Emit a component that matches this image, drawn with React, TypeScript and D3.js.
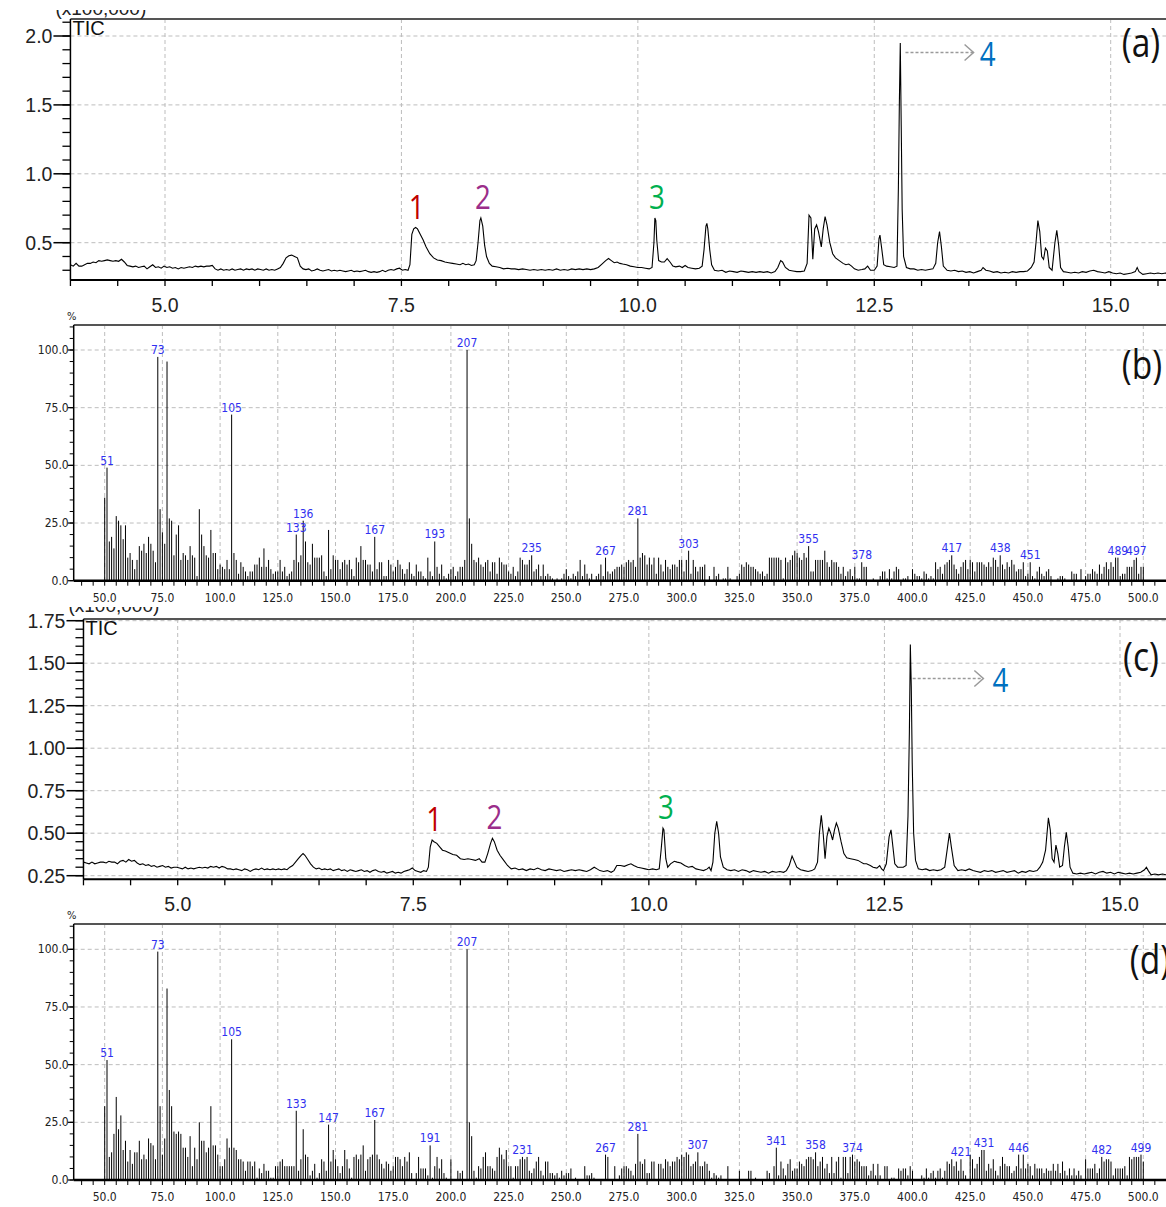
import React from 'react';
import * as d3 from 'd3';

const W = 1166;
const H = 1207;

// TIC traces: [retention time (min), intensity (x100,000)]
const ticA: [number, number][] = [
  [4.00,0.34],[4.03,0.33],[4.06,0.35],[4.09,0.33],[4.12,0.33],[4.15,0.34],[4.18,0.35],[4.21,0.35],[4.24,0.36],[4.27,0.355],
  [4.30,0.37],[4.33,0.365],[4.36,0.37],[4.39,0.375],[4.42,0.37],[4.45,0.365],[4.48,0.37],[4.51,0.365],[4.54,0.38],[4.57,0.36],
  [4.60,0.335],[4.63,0.33],[4.66,0.325],[4.69,0.33],[4.72,0.32],[4.75,0.325],[4.78,0.33],[4.81,0.31],[4.84,0.325],[4.87,0.34],
  [4.90,0.32],[4.93,0.325],[4.96,0.315],[4.99,0.33],[5.02,0.32],[5.05,0.325],[5.08,0.315],[5.11,0.32],[5.14,0.31],[5.17,0.32],
  [5.20,0.315],[5.23,0.32],[5.26,0.325],[5.29,0.32],[5.32,0.33],[5.35,0.325],[5.38,0.33],[5.41,0.325],[5.44,0.33],[5.47,0.33],
  [5.50,0.335],[5.53,0.31],[5.56,0.30],[5.59,0.31],[5.62,0.30],[5.65,0.305],[5.68,0.30],[5.71,0.31],[5.74,0.30],[5.77,0.305],
  [5.80,0.31],[5.83,0.30],[5.86,0.31],[5.89,0.305],[5.92,0.31],[5.95,0.30],[5.98,0.31],[6.01,0.305],[6.04,0.30],[6.07,0.31],
  [6.10,0.30],[6.13,0.305],[6.16,0.30],[6.19,0.31],[6.22,0.32],[6.25,0.35],[6.28,0.39],[6.31,0.405],[6.34,0.41],[6.37,0.40],
  [6.40,0.39],[6.43,0.33],[6.46,0.31],[6.49,0.305],[6.52,0.31],[6.55,0.295],[6.58,0.30],[6.61,0.31],[6.64,0.30],[6.67,0.295],
  [6.70,0.30],[6.73,0.305],[6.76,0.295],[6.79,0.30],[6.82,0.295],[6.85,0.30],[6.88,0.295],[6.91,0.29],[6.94,0.295],[6.97,0.30],
  [7.00,0.29],[7.03,0.295],[7.06,0.29],[7.09,0.295],[7.12,0.30],[7.15,0.29],[7.18,0.285],[7.21,0.29],[7.24,0.285],[7.27,0.29],
  [7.30,0.30],[7.33,0.29],[7.36,0.30],[7.39,0.305],[7.42,0.30],[7.45,0.31],[7.48,0.315],[7.51,0.30],[7.54,0.305],[7.57,0.30],
  [7.59,0.34],[7.61,0.56],[7.63,0.60],[7.65,0.61],[7.67,0.60],[7.70,0.56],[7.73,0.52],[7.76,0.47],[7.80,0.42],[7.84,0.39],
  [7.88,0.375],[7.92,0.37],[7.96,0.36],[8.00,0.355],[8.04,0.35],[8.08,0.345],[8.12,0.34],[8.15,0.35],[8.18,0.34],[8.21,0.345],
  [8.24,0.335],[8.27,0.34],[8.29,0.37],[8.31,0.50],[8.33,0.66],[8.34,0.68],[8.36,0.62],[8.38,0.48],[8.40,0.40],[8.43,0.35],
  [8.46,0.33],[8.50,0.325],[8.54,0.32],[8.58,0.31],[8.62,0.315],[8.66,0.31],[8.70,0.31],[8.74,0.305],[8.78,0.31],[8.82,0.305],
  [8.86,0.30],[8.90,0.305],[8.94,0.30],[8.98,0.305],[9.02,0.30],[9.06,0.305],[9.10,0.30],[9.14,0.31],[9.18,0.30],[9.22,0.305],
  [9.26,0.30],[9.30,0.31],[9.34,0.305],[9.38,0.31],[9.42,0.305],[9.46,0.31],[9.50,0.305],[9.54,0.31],[9.58,0.32],[9.62,0.345],
  [9.66,0.37],[9.69,0.385],[9.72,0.37],[9.75,0.355],[9.78,0.36],[9.81,0.35],[9.84,0.345],[9.88,0.34],[9.92,0.33],[9.96,0.325],
  [10.00,0.32],[10.04,0.32],[10.08,0.315],[10.12,0.31],[10.15,0.32],[10.17,0.50],[10.18,0.68],[10.19,0.66],[10.20,0.52],[10.22,0.37],
  [10.25,0.36],[10.28,0.36],[10.31,0.385],[10.34,0.36],[10.37,0.33],[10.40,0.325],[10.44,0.33],[10.47,0.32],[10.50,0.335],[10.53,0.32],
  [10.57,0.315],[10.61,0.31],[10.65,0.315],[10.68,0.33],[10.70,0.45],[10.72,0.62],[10.73,0.64],[10.74,0.60],[10.76,0.45],[10.78,0.34],
  [10.81,0.30],[10.85,0.295],[10.89,0.30],[10.93,0.285],[10.97,0.295],[11.01,0.29],[11.05,0.285],[11.09,0.295],[11.13,0.29],[11.17,0.285],
  [11.21,0.29],[11.25,0.285],[11.29,0.29],[11.33,0.285],[11.37,0.29],[11.41,0.28],[11.45,0.29],[11.48,0.32],[11.51,0.37],[11.53,0.36],
  [11.56,0.32],[11.60,0.30],[11.64,0.295],[11.68,0.29],[11.72,0.29],[11.76,0.295],[11.79,0.35],[11.81,0.70],[11.83,0.68],[11.85,0.38],
  [11.87,0.60],[11.89,0.63],[11.91,0.58],[11.94,0.47],[11.96,0.60],[11.98,0.69],[12.00,0.63],[12.03,0.50],[12.06,0.42],[12.09,0.39],
  [12.13,0.37],[12.17,0.35],[12.20,0.34],[12.23,0.345],[12.26,0.33],[12.29,0.31],[12.33,0.30],[12.37,0.305],[12.40,0.31],[12.43,0.33],
  [12.46,0.30],[12.50,0.30],[12.53,0.33],[12.55,0.53],[12.56,0.555],[12.58,0.45],[12.60,0.34],[12.63,0.33],[12.67,0.325],[12.71,0.32],
  [12.74,0.33],[12.755,0.90],[12.765,1.50],[12.775,1.95],[12.785,1.35],[12.795,0.74],[12.81,0.40],[12.84,0.32],[12.88,0.31],[12.92,0.31],
  [12.96,0.30],[13.00,0.305],[13.04,0.30],[13.08,0.305],[13.12,0.31],[13.15,0.35],[13.17,0.50],[13.19,0.58],[13.21,0.47],[13.23,0.33],
  [13.27,0.30],[13.31,0.295],[13.35,0.30],[13.39,0.29],[13.43,0.295],[13.47,0.285],[13.51,0.29],[13.55,0.28],[13.59,0.29],[13.63,0.30],
  [13.65,0.32],[13.68,0.30],[13.72,0.295],[13.76,0.285],[13.80,0.29],[13.84,0.28],[13.88,0.285],[13.92,0.28],[13.96,0.29],[14.00,0.285],
  [14.04,0.29],[14.08,0.29],[14.12,0.295],[14.16,0.32],[14.19,0.36],[14.21,0.50],[14.23,0.66],[14.25,0.58],[14.27,0.40],[14.29,0.38],
  [14.31,0.46],[14.33,0.44],[14.35,0.32],[14.38,0.30],[14.41,0.50],[14.43,0.59],[14.45,0.48],[14.47,0.32],[14.50,0.29],[14.54,0.285],
  [14.58,0.28],[14.62,0.285],[14.66,0.28],[14.70,0.29],[14.74,0.285],[14.78,0.295],[14.82,0.30],[14.86,0.29],[14.90,0.285],[14.94,0.28],
  [14.98,0.29],[15.02,0.28],[15.06,0.275],[15.10,0.28],[15.14,0.27],[15.18,0.275],[15.22,0.28],[15.26,0.29],[15.28,0.32],[15.30,0.29],
  [15.34,0.27],[15.38,0.275],[15.42,0.28],[15.46,0.275],[15.50,0.28],[15.54,0.275],[15.58,0.28],[15.62,0.275],
];

const ticC: [number, number][] = [
  [4.00,0.33],[4.03,0.325],[4.06,0.32],[4.09,0.33],[4.12,0.32],[4.15,0.325],[4.18,0.33],[4.21,0.33],[4.24,0.325],[4.27,0.335],
  [4.30,0.33],[4.33,0.33],[4.36,0.32],[4.39,0.335],[4.42,0.34],[4.45,0.33],[4.48,0.345],[4.51,0.335],[4.54,0.34],[4.57,0.325],
  [4.60,0.315],[4.63,0.32],[4.66,0.31],[4.69,0.315],[4.72,0.305],[4.75,0.31],[4.78,0.30],[4.81,0.305],[4.84,0.31],[4.87,0.30],
  [4.90,0.305],[4.93,0.295],[4.96,0.30],[4.99,0.30],[5.02,0.295],[5.05,0.29],[5.08,0.30],[5.11,0.29],[5.14,0.295],[5.17,0.29],
  [5.20,0.295],[5.23,0.30],[5.26,0.295],[5.29,0.30],[5.32,0.295],[5.35,0.305],[5.38,0.30],[5.41,0.305],[5.44,0.295],[5.47,0.305],
  [5.50,0.30],[5.53,0.29],[5.56,0.29],[5.59,0.285],[5.62,0.29],[5.65,0.285],[5.68,0.28],[5.71,0.29],[5.74,0.285],[5.77,0.275],
  [5.80,0.285],[5.83,0.29],[5.86,0.285],[5.89,0.295],[5.92,0.285],[5.95,0.29],[5.98,0.285],[6.01,0.29],[6.04,0.285],[6.07,0.29],
  [6.10,0.285],[6.13,0.29],[6.16,0.285],[6.19,0.30],[6.22,0.31],[6.25,0.33],[6.28,0.35],[6.31,0.37],[6.33,0.38],[6.35,0.37],
  [6.38,0.345],[6.41,0.32],[6.44,0.30],[6.47,0.29],[6.50,0.295],[6.53,0.285],[6.56,0.29],[6.59,0.285],[6.62,0.29],[6.65,0.28],
  [6.68,0.285],[6.71,0.29],[6.74,0.28],[6.77,0.285],[6.80,0.275],[6.83,0.285],[6.86,0.28],[6.89,0.275],[6.92,0.28],[6.95,0.285],
  [6.98,0.275],[7.01,0.28],[7.04,0.27],[7.07,0.28],[7.10,0.285],[7.13,0.275],[7.16,0.27],[7.19,0.275],[7.22,0.265],[7.25,0.27],
  [7.28,0.275],[7.31,0.265],[7.34,0.27],[7.37,0.265],[7.40,0.275],[7.43,0.28],[7.46,0.285],[7.49,0.295],[7.52,0.28],[7.55,0.275],
  [7.58,0.27],[7.61,0.28],[7.64,0.275],[7.66,0.30],[7.68,0.42],[7.70,0.46],[7.72,0.45],[7.75,0.44],[7.78,0.42],[7.81,0.40],
  [7.84,0.395],[7.88,0.385],[7.92,0.375],[7.96,0.37],[8.00,0.35],[8.04,0.345],[8.08,0.35],[8.12,0.345],[8.16,0.34],[8.20,0.35],
  [8.23,0.33],[8.26,0.33],[8.29,0.38],[8.32,0.44],[8.34,0.47],[8.36,0.45],[8.39,0.40],[8.42,0.37],[8.46,0.34],[8.50,0.31],
  [8.54,0.29],[8.58,0.295],[8.62,0.285],[8.66,0.29],[8.70,0.28],[8.74,0.29],[8.78,0.285],[8.82,0.295],[8.86,0.285],[8.90,0.28],
  [8.94,0.29],[8.98,0.285],[9.02,0.28],[9.06,0.285],[9.10,0.275],[9.14,0.28],[9.18,0.285],[9.22,0.28],[9.26,0.285],[9.30,0.28],
  [9.34,0.275],[9.38,0.285],[9.42,0.30],[9.45,0.29],[9.48,0.28],[9.52,0.275],[9.56,0.28],[9.60,0.27],[9.63,0.28],[9.66,0.31],
  [9.70,0.31],[9.74,0.305],[9.78,0.315],[9.81,0.32],[9.84,0.31],[9.88,0.30],[9.92,0.295],[9.96,0.29],[10.00,0.285],[10.04,0.29],
  [10.08,0.285],[10.11,0.29],[10.13,0.40],[10.15,0.53],[10.16,0.52],[10.18,0.35],[10.20,0.30],[10.23,0.32],[10.27,0.335],[10.30,0.33],
  [10.34,0.325],[10.38,0.31],[10.42,0.30],[10.46,0.305],[10.50,0.29],[10.54,0.285],[10.58,0.28],[10.62,0.29],[10.64,0.30],[10.66,0.28],
  [10.68,0.33],[10.70,0.50],[10.72,0.57],[10.74,0.50],[10.76,0.36],[10.79,0.30],[10.83,0.285],[10.87,0.28],[10.91,0.285],[10.95,0.275],
  [10.99,0.285],[11.03,0.28],[11.07,0.27],[11.11,0.28],[11.15,0.275],[11.19,0.27],[11.23,0.275],[11.27,0.265],[11.31,0.275],[11.35,0.27],
  [11.39,0.275],[11.43,0.27],[11.46,0.28],[11.49,0.31],[11.52,0.365],[11.54,0.34],[11.57,0.30],[11.61,0.285],[11.65,0.28],[11.69,0.275],
  [11.73,0.28],[11.76,0.29],[11.79,0.33],[11.81,0.50],[11.83,0.605],[11.85,0.50],[11.87,0.35],[11.89,0.48],[11.91,0.53],[11.93,0.50],
  [11.95,0.46],[11.97,0.52],[11.99,0.56],[12.01,0.53],[12.04,0.45],[12.07,0.38],[12.10,0.355],[12.14,0.35],[12.18,0.345],[12.22,0.34],
  [12.25,0.33],[12.28,0.32],[12.31,0.32],[12.35,0.31],[12.38,0.30],[12.42,0.295],[12.45,0.31],[12.47,0.29],[12.49,0.28],[12.52,0.32],
  [12.55,0.48],[12.57,0.52],[12.59,0.42],[12.61,0.32],[12.64,0.30],[12.67,0.30],[12.70,0.30],[12.73,0.31],[12.75,0.60],[12.765,1.10],
  [12.775,1.61],[12.785,1.36],[12.795,0.91],[12.81,0.50],[12.83,0.34],[12.86,0.29],[12.90,0.285],[12.94,0.29],[12.98,0.28],[13.02,0.285],
  [13.06,0.28],[13.10,0.285],[13.14,0.30],[13.17,0.42],[13.19,0.50],[13.21,0.42],[13.24,0.31],[13.28,0.28],[13.32,0.285],[13.36,0.28],
  [13.40,0.29],[13.44,0.28],[13.48,0.275],[13.52,0.27],[13.56,0.28],[13.60,0.275],[13.64,0.28],[13.68,0.27],[13.72,0.275],[13.76,0.28],
  [13.80,0.27],[13.84,0.275],[13.88,0.28],[13.92,0.265],[13.96,0.275],[14.00,0.27],[14.04,0.28],[14.08,0.275],[14.12,0.28],[14.15,0.30],
  [14.18,0.33],[14.21,0.40],[14.24,0.59],[14.26,0.52],[14.28,0.35],[14.30,0.33],[14.32,0.43],[14.34,0.38],[14.36,0.30],[14.39,0.31],
  [14.41,0.42],[14.43,0.505],[14.45,0.42],[14.47,0.30],[14.50,0.265],[14.54,0.26],[14.58,0.265],[14.62,0.26],[14.66,0.265],[14.70,0.27],
  [14.74,0.26],[14.78,0.27],[14.82,0.275],[14.86,0.265],[14.90,0.27],[14.94,0.26],[14.98,0.27],[15.02,0.265],[15.06,0.26],[15.10,0.265],
  [15.14,0.26],[15.18,0.265],[15.22,0.27],[15.26,0.285],[15.28,0.30],[15.30,0.28],[15.33,0.255],[15.37,0.26],[15.41,0.255],[15.45,0.26],
  [15.49,0.255],[15.53,0.26],
];

// mass spectra: relative intensity (%) for m/z 50, 51, ... 500
const mzFirst = 50;
const specB = [
  36,49,17,19,14,28,26,24,18,24, 10,12,9,5,9,15,13,16,12,19, 16,13,8,97,31,21,16,95,27,26,
  11,20,24,9,12,11,9,15,11,10, 2,31,20,15,11,10,22,12,12,5, 7,6,5,9,5,72,12,9,3,8,
  6,4,2,4,4,7,7,10,6,14, 6,9,5,3,4,4,9,4,6,2, 3,4,9,20,8,11,26,17,8,7,
  16,10,10,10,11,4,2,22,5,11, 9,9,5,8,9,7,9,5,2,10, 8,15,9,9,7,7,4,19,5,8,
  8,2,2,9,7,4,6,9,7,5, 3,5,8,3,2,7,4,4,2,1, 10,4,2,17,6,3,7,2,1,3,
  5,6,2,4,6,6,9,100,27,16, 9,8,10,7,6,8,9,4,8,8, 3,10,8,7,7,4,3,6,2,4,
  10,9,7,7,9,11,4,5,7,2, 7,2,3,2,1,0,1,0,1,3, 5,2,1,3,2,4,9,2,7,3,
  1,3,0,2,3,7,2,10,4,3, 4,5,6,6,7,6,8,9,8,9, 6,27,10,12,11,7,10,7,10,3,
  10,7,4,9,6,5,7,7,6,9, 9,4,9,13,3,9,6,4,6,6, 7,0,2,0,6,2,3,0,1,1,
  6,1,0,0,2,3,7,6,8,7, 6,6,5,4,3,4,2,3,10,10, 10,10,10,9,1,10,8,9,11,13,
  12,10,9,12,10,15,4,4,9,9, 9,9,13,8,6,9,8,8,6,3, 6,2,4,5,2,6,1,1,8,6,
  6,0,0,1,0,0,2,4,4,1, 5,1,4,6,5,0,1,1,2,0, 5,3,2,2,1,4,3,1,2,1,
  8,5,6,3,7,8,9,11,7,5, 3,6,8,9,5,9,8,4,8,8, 8,7,6,8,6,10,9,6,11,7,
  5,8,6,9,7,4,5,5,8,2, 3,8,2,1,4,6,3,2,4,5, 2,0,0,1,2,2,1,0,0,4,
  3,3,0,5,0,2,3,3,5,4, 3,7,3,6,8,5,8,6,10,10, 2,3,3,6,6,6,9,10,3,6,
  6,
];
const specD = [
  32,52,10,12,20,36,22,28,13,17, 8,13,7,12,12,17,9,11,9,18, 16,15,9,99,32,11,18,83,39,32,
  21,20,21,20,14,14,10,19,6,14, 9,25,17,17,12,14,32,15,15,11, 6,6,9,18,14,61,14,13,9,9,
  8,4,8,8,6,8,1,5,3,7, 4,4,1,1,6,6,8,9,6,6, 6,6,6,30,4,9,22,11,10,2,
  4,7,1,3,9,8,4,24,8,13, 9,6,3,6,13,9,5,1,10,11, 9,11,15,4,9,10,11,26,11,9,
  7,5,8,7,4,6,10,10,9,6, 10,8,12,3,0,3,10,5,5,5, 2,15,1,6,10,5,9,3,1,0,
  9,0,0,4,3,4,0,100,25,19, 4,1,6,5,10,12,6,6,5,4, 10,14,11,9,13,6,6,1,6,6,
  9,10,9,10,4,3,5,8,10,4, 2,8,8,3,3,2,3,1,4,2, 3,3,5,0,1,0,0,0,6,2,
  2,3,1,0,0,0,0,11,10,0, 0,6,0,2,5,6,6,5,4,2, 7,20,8,7,9,3,3,8,8,0,
  7,7,5,9,8,6,8,8,10,9, 11,10,12,11,6,7,8,12,6,6, 8,7,4,1,3,2,1,2,0,0,
  6,0,0,0,0,4,0,0,0,4, 4,0,1,0,0,0,0,4,3,0, 6,14,2,8,5,2,7,9,4,5,
  5,8,7,6,9,10,10,9,12,6, 8,10,5,7,3,10,3,8,10,1, 10,10,3,10,11,8,9,8,6,6,
  6,2,4,7,2,7,2,0,6,6, 0,1,1,0,5,4,5,5,2,6, 4,0,0,0,2,1,5,1,3,4,
  1,4,5,1,4,8,7,9,6,8, 4,9,4,2,0,11,9,5,7,10, 13,13,4,7,5,9,4,2,6,10,
  7,6,6,3,4,6,11,5,11,5, 7,6,2,7,5,5,5,3,5,4, 4,7,4,7,3,8,4,2,5,2,
  5,2,4,2,0,9,5,5,5,7, 3,5,10,8,9,9,8,2,5,5, 5,5,6,2,10,9,10,10,10,11,
  8,
];
const labelsB = [51, 73, 105, 133, 136, 167, 193, 207, 235, 267, 281, 303, 355, 378, 417, 438, 451, 489, 497];
const labelsD = [51, 73, 105, 133, 147, 167, 191, 207, 231, 267, 281, 307, 341, 358, 374, 421, 431, 446, 482, 499];

const timeTicks = [5.0, 7.5, 10.0, 12.5, 15.0];
const ticYTicksA = [0.5, 1.0, 1.5, 2.0];
const ticYTicksC = [0.25, 0.5, 0.75, 1.0, 1.25, 1.5, 1.75];
const mzTicks = [50, 75, 100, 125, 150, 175, 200, 225, 250, 275, 300, 325, 350, 375, 400, 425, 450, 475, 500];
const pctTicks = [0, 25, 50, 75, 100];

const peaksA = [
  { n: '1', t: 7.64, v: 0.61, color: '#c00000' },
  { n: '2', t: 8.34, v: 0.68, color: '#9b2d8a' },
  { n: '3', t: 10.18, v: 0.68, color: '#00b050' },
];
const peaksC = [
  { n: '1', t: 7.70, v: 0.46, color: '#c00000' },
  { n: '2', t: 8.34, v: 0.47, color: '#9b2d8a' },
  { n: '3', t: 10.16, v: 0.53, color: '#00b050' },
];

const AXIS_FONT = 'Arial, "Liberation Sans", sans-serif';
const NARROW_FONT = '"DejaVu Sans Condensed", "Liberation Sans Narrow", sans-serif';
const TAG_FONT = '"Open Sans", sans-serif';
const GRID = '#bdbdbd';

// condensed big text (Calibri-like look)
const Tag = ({ x, y, size, color, children }: any) => (
  <text transform={`translate(${x},${y}) scale(0.84,1)`} textAnchor="middle" fontSize={size} fill={color} fontFamily={TAG_FONT}>{children}</text>
);

function TicPanel({ id, data, x5, x15, yLo, yHi, yLoPx, yHiPx, top, bottom, yTicks, yMinor, fmt, peaks, arrow, tag, tagY, multClip }: any) {
  const x = d3.scaleLinear().domain([5, 15]).range([x5, x15]);
  const y = d3.scaleLinear().domain([yLo, yHi]).range([yLoPx, yHiPx]);
  const left = x(4);
  const line = d3.line<[number, number]>().x(d => x(d[0])).y(d => y(d[1]));
  const minorX = d3.range(4, 15.51, 0.5);
  return (
    <g>
      <defs>
        <clipPath id={`mult-${id}`}><rect x={0} y={multClip} width={300} height={40} /></clipPath>
        <clipPath id={`plot-${id}`}><rect x={left} y={top} width={W - left} height={bottom - top} /></clipPath>
      </defs>
      {yTicks.map((v: number) => (
        <line key={'gy' + v} x1={left} x2={W} y1={y(v)} y2={y(v)} stroke={GRID} strokeDasharray="4,3" />
      ))}
      {timeTicks.map(t => (
        <line key={'gx' + t} x1={x(t)} x2={x(t)} y1={top} y2={bottom} stroke={GRID} strokeDasharray="4,3" />
      ))}
      <path d={line(data) || ''} fill="none" stroke="#000" strokeWidth={1.1} clipPath={`url(#plot-${id})`} />
      <line x1={left} x2={W} y1={top} y2={top} stroke="#555" strokeWidth={2} />
      <line x1={left} x2={left} y1={top} y2={bottom} stroke="#000" strokeWidth={1.5} />
      <line x1={left} x2={W} y1={bottom} y2={bottom} stroke="#000" strokeWidth={2} />
      {yMinor.map((v: number) => (
        <line key={'my' + v} x1={left - 8} x2={left} y1={y(v)} y2={y(v)} stroke="#000" strokeWidth={1.3} />
      ))}
      {yTicks.map((v: number) => (
        <g key={'ty' + v}>
          <line x1={left - 17} x2={left} y1={y(v)} y2={y(v)} stroke="#000" strokeWidth={1.5} />
          <text x={left - 18} y={y(v) + 7} textAnchor="end" fontSize={19.5} fill="#222" fontFamily={AXIS_FONT}>{fmt(v)}</text>
        </g>
      ))}
      {minorX.map(t => (
        <line key={'mx' + t} x1={x(t)} x2={x(t)} y1={bottom} y2={bottom + 6} stroke="#000" strokeWidth={1.3} />
      ))}
      {timeTicks.map(t => (
        <text key={'tx' + t} x={x(t)} y={bottom + 32} textAnchor="middle" fontSize={19.5} fill="#222" fontFamily={AXIS_FONT}>{t.toFixed(1)}</text>
      ))}
      <text x={left - 15} y={multClip + 5} fontSize={19} fill="#222" fontFamily={AXIS_FONT} clipPath={`url(#mult-${id})`}>(x100,000)</text>
      <text x={left + 2} y={top + 16} fontSize={20} fill="#111" fontFamily={AXIS_FONT}>TIC</text>
      {peaks.map((p: any) => (
        <Tag key={p.n} x={x(p.t) + 2} y={y(p.v) - 9} size={33} color={p.color}>{p.n}</Tag>
      ))}
      <line x1={x(arrow.t0)} x2={x(arrow.t1)} y1={y(arrow.v)} y2={y(arrow.v)} stroke="#9a9a9a" strokeWidth={1.5} strokeDasharray="3,2" />
      <path d={`M${x(arrow.t1) - 9},${y(arrow.v) - 8}L${x(arrow.t1)},${y(arrow.v)}L${x(arrow.t1) - 9},${y(arrow.v) + 8}`} fill="none" stroke="#9a9a9a" strokeWidth={1.5} />
      <Tag x={x(arrow.tLabel)} y={y(arrow.v) + 13} size={33} color="#0070c0">4</Tag>
      <Tag x={1141} y={tagY} size={40} color="#111">{tag}</Tag>
    </g>
  );
}

function SpectrumPanel({ values, labels, y0, y100, top, tag, tagX, tagY }: any) {
  const x = d3.scaleLinear().domain([50, 500]).range([104.7, 1143.3]);
  const y = d3.scaleLinear().domain([0, 100]).range([y0, y100]);
  const left = 73.7;
  const minorX = d3.range(40, 510, 5);
  const minorY = d3.range(0, 111, 5);
  return (
    <g>
      {pctTicks.filter(v => v > 0).map(v => (
        <line key={'gy' + v} x1={left} x2={W} y1={y(v)} y2={y(v)} stroke={GRID} strokeDasharray="4,3" />
      ))}
      {mzTicks.map(m => (
        <line key={'gx' + m} x1={x(m)} x2={x(m)} y1={top} y2={y0} stroke={GRID} strokeDasharray="4,3" />
      ))}
      {values.map((v: number, i: number) => (
        v > 0 ? <line key={'b' + i} x1={x(mzFirst + i)} x2={x(mzFirst + i)} y1={y0} y2={y(v)} stroke="#000" strokeWidth={1} /> : null
      ))}
      {labels.map((m: number) => (
        <text key={'l' + m} x={x(m)} y={y(values[m - mzFirst]) - 3} textAnchor="middle" fontSize={12} fill="#3030f0" fontFamily={NARROW_FONT}>{m}</text>
      ))}
      <line x1={left} x2={W} y1={top} y2={top} stroke="#555" strokeWidth={2} />
      <line x1={left} x2={left} y1={top} y2={y0} stroke="#000" strokeWidth={1.5} />
      <line x1={left} x2={W} y1={y0} y2={y0} stroke="#000" strokeWidth={2.5} />
      {minorY.map(v => (
        <line key={'my' + v} x1={left - 4} x2={left} y1={y(v)} y2={y(v)} stroke="#000" strokeWidth={1} />
      ))}
      {pctTicks.map(v => (
        <g key={'ty' + v}>
          <line x1={left - 6} x2={left} y1={y(v)} y2={y(v)} stroke="#000" strokeWidth={1.2} />
          <text x={left - 5} y={y(v) + 4} textAnchor="end" fontSize={12} fill="#222" fontFamily={NARROW_FONT}>{v.toFixed(1)}</text>
        </g>
      ))}
      {minorX.map(m => (
        <line key={'mx' + m} x1={x(m)} x2={x(m)} y1={y0} y2={y0 + 5} stroke="#000" strokeWidth={1} />
      ))}
      {mzTicks.map(m => (
        <text key={'tx' + m} x={x(m)} y={y0 + 21} textAnchor="middle" fontSize={12} fill="#222" fontFamily={NARROW_FONT}>{m.toFixed(1)}</text>
      ))}
      <text x={left - 2} y={top - 5} textAnchor="middle" fontSize={11} fill="#222" fontFamily={NARROW_FONT}>%</text>
      <Tag x={tagX} y={tagY} size={40} color="#111">{tag}</Tag>
    </g>
  );
}

export default function App() {
  return (
    <svg width={W} height={H} style={{ position: 'absolute', left: 0, top: 0, background: '#fff' }}>
      <rect width={W} height={H} fill="#fff" />
      <TicPanel id="c" data={ticC} x5={177.7} x15={1120} yLo={0.25} yHi={1.75} yLoPx={875.7} yHiPx={620.7}
        top={619} bottom={879.3} yTicks={ticYTicksC} yMinor={d3.range(0.25, 1.76, 0.05)} fmt={(v: number) => v.toFixed(2)}
        peaks={peaksC} arrow={{ t0: 12.8, t1: 13.55, v: 1.41, tLabel: 13.73 }} tag="(c)" tagY={671} multClip={607} />
      <rect x={0} y={0} width={W} height={606} fill="#fff" />
      <TicPanel id="a" data={ticA} x5={165} x15={1110.7} yLo={0.5} yHi={2.0} yLoPx={242.7} yHiPx={36}
        top={19} bottom={280} yTicks={ticYTicksA} yMinor={d3.range(0.3, 2.15, 0.1)} fmt={(v: number) => v.toFixed(1)}
        peaks={peaksA} arrow={{ t0: 12.83, t1: 13.55, v: 1.88, tLabel: 13.7 }} tag="(a)" tagY={57} multClip={10} />
      <SpectrumPanel values={specB} labels={labelsB} y0={580.7} y100={350} top={325} tag="(b)" tagX={1142} tagY={379} />
      <SpectrumPanel values={specD} labels={labelsD} y0={1180} y100={949.3} top={924} tag="(d)" tagX={1150} tagY={974} />
    </svg>
  );
}
